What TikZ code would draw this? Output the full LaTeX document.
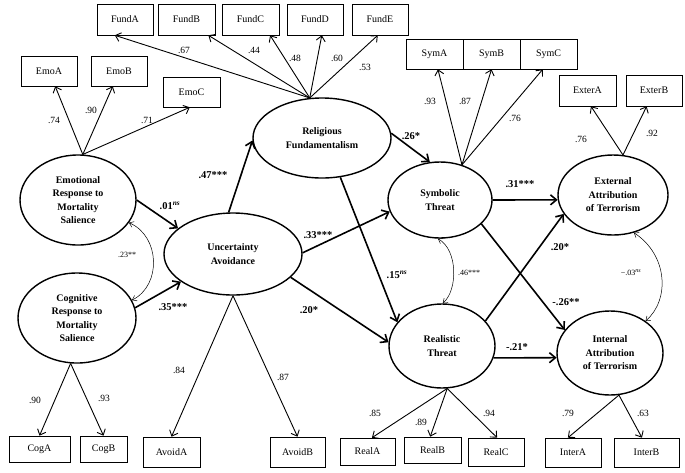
\documentclass[tikz,border=0pt]{standalone}
\usepackage{fontspec}
\setmainfont{Liberation Serif}
\usetikzlibrary{arrows.meta,shapes.geometric,calc}
\begin{document}
\begin{tikzpicture}[x=1pt,y=-1pt,
 lat/.style={ellipse,draw,line width=1.4pt,inner sep=0pt,align=center,font=\fontsize{10}{13.5}\selectfont\bfseries},
 obs/.style={rectangle,draw,line width=0.6pt,inner sep=0pt,font=\fontsize{10}{12}\selectfont},
 load/.style={line width=0.9pt,-{Straight Barb[length=5pt,width=9pt]}},
 spath/.style={line width=1.6pt,-{Straight Barb[length=6pt,width=10pt]}},
 cov/.style={line width=0.5pt,{Straight Barb[length=4pt,width=6pt]}-{Straight Barb[length=4pt,width=6pt]}},
 ll/.style={font=\fontsize{9.5}{11}\selectfont},
 pl/.style={font=\fontsize{10.5}{12}\selectfont\bfseries},
 cl/.style={font=\fontsize{8}{10}\selectfont}]
\fill[white] (0,0) rectangle (685,472);
\useasboundingbox (0,0) rectangle (685,472);

% latent variables
\node[lat,minimum width=116pt,minimum height=90pt] (emo) at (78,200) {Emotional\\Response to\\Mortality\\Salience};
\node[lat,minimum width=118pt,minimum height=90pt] (cog) at (77,318) {Cognitive\\Response to\\Mortality\\Salience};
\node[lat,minimum width=138pt,minimum height=82pt] (unc) at (233,254) {Uncertainty\\Avoidance};
\node[lat,minimum width=138pt,minimum height=80pt] (rel) at (322,138) {Religious\\Fundamentalism};
\node[lat,minimum width=104pt,minimum height=76pt] (sym) at (440,200) {Symbolic\\Threat};
\node[lat,minimum width=106pt,minimum height=84pt] (real) at (442,346) {Realistic\\Threat};
\node[lat,minimum width=110pt,minimum height=80pt] (ext) at (613,195) {External\\Attribution\\of Terrorism};
\node[lat,minimum width=106pt,minimum height=84pt] (int) at (610,353) {Internal\\Attribution\\of Terrorism};

% observed variables
\node[obs,minimum width=56pt,minimum height=31pt] (fundA) at (125,19.5) {FundA};
\node[obs,minimum width=57pt,minimum height=31pt] (fundB) at (186.5,19.5) {FundB};
\node[obs,minimum width=57pt,minimum height=31pt] (fundC) at (250.5,19.5) {FundC};
\node[obs,minimum width=56pt,minimum height=31pt] (fundD) at (315,19.5) {FundD};
\node[obs,minimum width=56pt,minimum height=31pt] (fundE) at (380,19.5) {FundE};
\node[obs,minimum width=56pt,minimum height=30pt] (emoA) at (49,71) {EmoA};
\node[obs,minimum width=56pt,minimum height=30pt] (emoB) at (119,71) {EmoB};
\node[obs,minimum width=57pt,minimum height=30pt] (emoC) at (191.5,92) {EmoC};
\node[obs,minimum width=57pt,minimum height=30pt] (symA) at (434.5,54) {SymA};
\node[obs,minimum width=57pt,minimum height=30pt] (symB) at (491.5,54) {SymB};
\node[obs,minimum width=57pt,minimum height=30pt] (symC) at (548.5,54) {SymC};
\node[obs,minimum width=57pt,minimum height=31pt] (extA) at (587.5,90.5) {ExterA};
\node[obs,minimum width=56pt,minimum height=31pt] (extB) at (654,90.5) {ExterB};
\node[obs,minimum width=61pt,minimum height=26pt] (cogA) at (39.5,449) {CogA};
\node[obs,minimum width=47pt,minimum height=26pt] (cogB) at (103.5,449) {CogB};
\node[obs,minimum width=57pt,minimum height=30pt] (avA) at (171.5,452) {AvoidA};
\node[obs,minimum width=55pt,minimum height=30pt] (avB) at (297.5,452) {AvoidB};
\node[obs,minimum width=55pt,minimum height=27pt] (realA) at (367.5,451.5) {RealA};
\node[obs,minimum width=57pt,minimum height=26pt] (realB) at (432.5,450) {RealB};
\node[obs,minimum width=56pt,minimum height=28pt] (realC) at (496,452) {RealC};
\node[obs,minimum width=56pt,minimum height=29pt] (intA) at (573,452.5) {InterA};
\node[obs,minimum width=65pt,minimum height=29pt] (intB) at (646.5,452.5) {InterB};

% loadings
\draw[load] (rel.107) -- ($(fundA.south west)!0.32!(fundA.south east)$);
\draw[load] (rel.107) -- ($(fundB.south west)!0.88!(fundB.south east)$);
\draw[load] (rel.107) -- ($(fundC.south west)!0.84!(fundC.south east)$);
\draw[load] (rel.107) -- ($(fundD.south west)!0.62!(fundD.south east)$);
\draw[load] (rel.107) -- ($(fundE.south west)!0.46!(fundE.south east)$);
\draw[load] (emo.84) -- ($(emoA.south west)!0.61!(emoA.south east)$);
\draw[load] (emo.84) -- ($(emoB.south west)!0.39!(emoB.south east)$);
\draw[load] (emo.84) -- ($(emoC.south west)!0.47!(emoC.south east)$);
\draw[load] (sym.58) -- ($(symA.south west)!0.56!(symA.south east)$);
\draw[load] (sym.58) -- ($(symB.south west)!0.5!(symB.south east)$);
\draw[load] (sym.58) -- ($(symC.south west)!0.4!(symC.south east)$);
\draw[load] (ext.76) -- ($(extA.south west)!0.56!(extA.south east)$);
\draw[load] (ext.76) -- ($(extB.south west)!0.37!(extB.south east)$);
\draw[load] (cog.262) -- ($(cogA.north west)!0.5!(cogA.north east)$);
\draw[load] (cog.262) -- ($(cogB.north west)!0.5!(cogB.north east)$);
\draw[load] (unc.270) -- ($(avA.north west)!0.5!(avA.north east)$);
\draw[load] (unc.270) -- ($(avB.north west)!0.5!(avB.north east)$);
\draw[load] (real.277) -- ($(realA.north west)!0.58!(realA.north east)$);
\draw[load] (real.277) -- ($(realB.north west)!0.46!(realB.north east)$);
\draw[load] (real.277) -- ($(realC.north west)!0.52!(realC.north east)$);
\draw[load] (int.282) -- ($(intA.north west)!0.41!(intA.north east)$);
\draw[load] (int.282) -- ($(intB.north west)!0.43!(intB.north east)$);

% loading labels
\node[ll] (lfa) at (184,50) {.67};
\node[ll] (lfb) at (254,50) {.44};
\node[ll] (lfc) at (295,58) {.48};
\node[ll] (lfd) at (337,58) {.60};
\node[ll] (lfe) at (365,67) {.53};
\node[ll] (lea) at (54,120) {.74};
\node[ll] (leb) at (91,110) {.90};
\node[ll] (lec) at (147,120) {.71};
\node[ll] (lsa) at (430,101) {.93};
\node[ll] (lsb) at (465,101) {.87};
\node[ll] (lsc) at (515,118) {.76};
\node[ll] (lxa) at (581,139) {.76};
\node[ll] (lxb) at (652,133) {.92};
\node[ll] (lca) at (35,400) {.90};
\node[ll] (lcb) at (104,398) {.93};
\node[ll] (lva) at (179,370) {.84};
\node[ll] (lvb) at (283,377) {.87};
\node[ll] (lra) at (375,413) {.85};
\node[ll] (lrb) at (421,422) {.89};
\node[ll] (lrc) at (489,413) {.94};
\node[ll] (lia) at (568,413) {.79};
\node[ll] (lib) at (643,413) {.63};

% structural paths
\draw[spath] (emo.0) -- (unc.155);
\draw[spath] (cog.10) -- (unc.208);
\draw[spath] (unc.96) -- (rel.182);
\draw[spath] (unc.1) -- (sym.193);
\draw[spath] (unc.338) -- (real.176);
\draw[spath] (rel.4) -- (sym.105);
\draw[spath] (rel.295) -- (real.152);
\draw[spath] (sym.0) -- (ext.185);
\draw[spath] (sym.330) -- (int.153);
\draw[spath] (real.30) -- (ext.201);
\draw[spath] (real.347) -- (int.185);

\node[pl] (p1) at (170,206) {.01\textsuperscript{\itshape ns}};
\node[pl] (p2) at (213,175) {.47***};
\node[pl] (p3) at (173,307) {.35***};
\node[pl] (p4) at (318,235) {.33***};
\node[pl] (p5) at (309,310) {.20*};
\node[pl] (p6) at (411,136) {.26*};
\node[pl] (p7) at (397,275) {.15\textsuperscript{\itshape ns}};
\node[pl] (p8) at (520,184) {.31***};
\node[pl] (p9) at (566,302) {-.26**};
\node[pl] (p10) at (560,247) {.20*};
\node[pl] (p11) at (517,347) {-.21*};

% covariances
\draw[cov] (emo.336) .. controls (160,236) and (162,285) .. (cog.18);
\draw[cov] (sym.267) .. controls (458,250) and (458,290) .. (real.89);
\draw[cov] (ext.299) .. controls (668,255) and (670,300) .. (int.42);
\node[cl] (c1) at (127,255) {.23**};
\node[cl] (c2) at (469,273) {.46***};
\node[cl] (c3) at (631,273) {−.03\textsuperscript{\itshape ns}};
\end{tikzpicture}
\end{document}
